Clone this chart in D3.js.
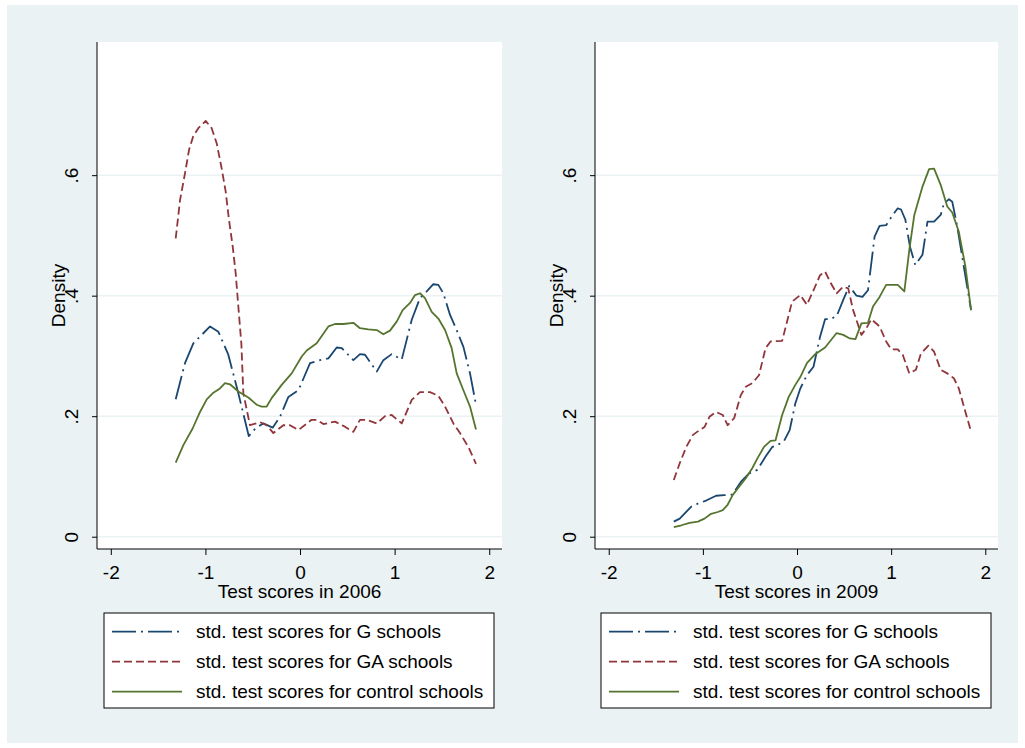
<!DOCTYPE html>
<html>
<head>
<meta charset="utf-8">
<script src="https://cdn.jsdelivr.net/npm/d3@7"></script>
<style>
  body { margin: 0; background: #fff; }
  text { font-family: "Liberation Sans", Arial, sans-serif; fill: #000; }
</style>
</head>
<body>
<div id="chart"></div>
<script>
// kernel density estimates: [score, density]
const g2006 = [[-1.314,0.228],[-1.216,0.288],[-1.128,0.321],[-1.039,0.335],[-0.951,0.349],[-0.863,0.340],[-0.758,0.302],[-0.652,0.238],[-0.542,0.167],[-0.469,0.180],[-0.388,0.188],[-0.289,0.181],[-0.211,0.199],[-0.123,0.232],[-0.017,0.243],[0.106,0.288],[0.211,0.293],[0.300,0.296],[0.388,0.314],[0.441,0.313],[0.564,0.293],[0.634,0.303],[0.687,0.302],[0.811,0.274],[0.881,0.293],[0.969,0.303],[1.075,0.294],[1.181,0.360],[1.268,0.396],[1.339,0.407],[1.409,0.419],[1.462,0.418],[1.515,0.404],[1.586,0.368],[1.656,0.343],[1.727,0.315],[1.797,0.271],[1.860,0.219]];
const ga2006 = [[-1.314,0.495],[-1.268,0.559],[-1.216,0.603],[-1.173,0.642],[-1.128,0.665],[-1.075,0.678],[-0.997,0.690],[-0.934,0.678],[-0.881,0.653],[-0.828,0.611],[-0.786,0.573],[-0.751,0.526],[-0.711,0.481],[-0.680,0.437],[-0.652,0.382],[-0.620,0.320],[-0.599,0.238],[-0.529,0.185],[-0.423,0.190],[-0.352,0.185],[-0.282,0.172],[-0.176,0.185],[-0.106,0.185],[-0.017,0.177],[0.123,0.194],[0.176,0.194],[0.247,0.187],[0.370,0.191],[0.458,0.184],[0.564,0.174],[0.634,0.194],[0.705,0.194],[0.811,0.188],[0.899,0.200],[0.969,0.202],[1.075,0.188],[1.181,0.227],[1.268,0.240],[1.374,0.240],[1.462,0.234],[1.533,0.216],[1.621,0.188],[1.691,0.172],[1.779,0.149],[1.860,0.121]];
const ctl2006 = [[-1.314,0.123],[-1.233,0.152],[-1.134,0.180],[-1.057,0.207],[-0.986,0.228],[-0.916,0.239],[-0.846,0.246],[-0.793,0.255],[-0.740,0.253],[-0.652,0.241],[-0.546,0.231],[-0.458,0.219],[-0.405,0.216],[-0.352,0.216],[-0.300,0.230],[-0.194,0.252],[-0.088,0.271],[0.018,0.299],[0.071,0.309],[0.176,0.321],[0.300,0.349],[0.370,0.353],[0.458,0.353],[0.564,0.355],[0.634,0.346],[0.722,0.344],[0.811,0.343],[0.881,0.336],[0.951,0.342],[1.022,0.357],[1.085,0.376],[1.163,0.388],[1.216,0.401],[1.268,0.404],[1.321,0.396],[1.392,0.373],[1.462,0.362],[1.533,0.343],[1.603,0.313],[1.656,0.271],[1.727,0.243],[1.797,0.216],[1.860,0.178]];

const g2009 = [[-1.309,0.025],[-1.246,0.030],[-1.123,0.050],[-1.053,0.055],[-0.965,0.060],[-0.860,0.068],[-0.773,0.069],[-0.684,0.070],[-0.597,0.091],[-0.509,0.105],[-0.421,0.111],[-0.334,0.133],[-0.263,0.149],[-0.211,0.152],[-0.141,0.158],[-0.078,0.177],[-0.018,0.221],[0.035,0.246],[0.105,0.268],[0.175,0.282],[0.245,0.332],[0.298,0.361],[0.351,0.361],[0.421,0.366],[0.491,0.393],[0.554,0.416],[0.632,0.400],[0.695,0.398],[0.754,0.409],[0.824,0.498],[0.877,0.516],[0.947,0.517],[1.017,0.534],[1.070,0.545],[1.105,0.543],[1.151,0.526],[1.200,0.481],[1.256,0.451],[1.333,0.468],[1.386,0.523],[1.456,0.523],[1.526,0.534],[1.561,0.553],[1.614,0.560],[1.649,0.556],[1.702,0.515],[1.772,0.448],[1.849,0.376]];
const ga2009 = [[-1.309,0.094],[-1.246,0.122],[-1.176,0.149],[-1.105,0.169],[-1.035,0.177],[-0.983,0.182],[-0.930,0.199],[-0.860,0.207],[-0.789,0.202],[-0.737,0.185],[-0.667,0.197],[-0.597,0.235],[-0.544,0.249],[-0.474,0.255],[-0.404,0.268],[-0.334,0.313],[-0.281,0.324],[-0.158,0.325],[-0.088,0.368],[-0.053,0.390],[0.035,0.401],[0.105,0.385],[0.175,0.409],[0.245,0.434],[0.298,0.440],[0.351,0.423],[0.421,0.404],[0.491,0.415],[0.544,0.412],[0.596,0.376],[0.684,0.335],[0.737,0.346],[0.789,0.361],[0.877,0.349],[0.947,0.324],[1.000,0.311],[1.070,0.311],[1.123,0.302],[1.193,0.271],[1.263,0.277],[1.316,0.304],[1.396,0.317],[1.456,0.307],[1.526,0.277],[1.596,0.271],[1.666,0.263],[1.719,0.246],[1.789,0.207],[1.842,0.178]];
const ctl2009 = [[-1.309,0.016],[-1.228,0.019],[-1.141,0.023],[-1.053,0.025],[-0.983,0.030],[-0.913,0.038],[-0.842,0.041],[-0.789,0.044],[-0.737,0.053],[-0.684,0.069],[-0.615,0.083],[-0.544,0.097],[-0.474,0.114],[-0.421,0.130],[-0.351,0.149],[-0.281,0.159],[-0.228,0.160],[-0.158,0.202],[-0.088,0.232],[-0.018,0.252],[0.035,0.265],[0.105,0.288],[0.193,0.303],[0.298,0.314],[0.421,0.338],[0.491,0.335],[0.561,0.329],[0.621,0.328],[0.684,0.354],[0.754,0.355],[0.807,0.382],[0.877,0.398],[0.947,0.418],[1.070,0.418],[1.140,0.407],[1.193,0.476],[1.246,0.534],[1.333,0.581],[1.403,0.610],[1.456,0.611],[1.526,0.584],[1.596,0.548],[1.649,0.538],[1.719,0.506],[1.789,0.448],[1.849,0.376]];

const xTicks = [-2, -1, 0, 1, 2];
const yTicks = [0, 0.2, 0.4, 0.6];
const yTickLabels = ['0', '.2', '.4', '.6'];
const legendLabels = ['std. test scores for G schools', 'std. test scores for GA schools', 'std. test scores for control schools'];
const seriesColors = ['#1a476f', '#90353b', '#55752f'];
const seriesDash = ['24,5,2,5', '8,4', null];

const panels = [
  { title: 'Test scores in 2006', series: [g2006, ga2006, ctl2006], left: 97, right: 502, legendLeft: 104 },
  { title: 'Test scores in 2009', series: [g2009, ga2009, ctl2009], left: 595, right: 998, legendLeft: 601 }
];

const W = 1025, H = 748;
const plotTop = 42, plotBottom = 549;
const fontSize = 19;

const svg = d3.select('#chart').append('svg')
  .attr('width', W).attr('height', H);

// stata-style outer background
svg.append('rect')
  .attr('x', 7).attr('y', 5).attr('width', W - 14).attr('height', H - 10)
  .attr('fill', '#eaf2f3');

const line = (x, y) => d3.line().x(d => x(d[0])).y(d => y(d[1]));

panels.forEach(p => {
  const g = svg.append('g');

  // keep ticks at the reference spacing: -2..2 is ~378 px
  const x = d3.scaleLinear().domain([-2.146, 2.135]).range([p.left, p.right]);
  const y = d3.scaleLinear().domain([-0.0204, 0.821]).range([plotBottom, plotTop]);

  g.append('rect')
    .attr('x', p.left).attr('y', plotTop)
    .attr('width', p.right - p.left).attr('height', plotBottom - plotTop)
    .attr('fill', '#fff');

  // grid
  g.selectAll('.grid').data(yTicks).enter().append('line')
    .attr('x1', p.left).attr('x2', p.right)
    .attr('y1', d => y(d)).attr('y2', d => y(d))
    .attr('stroke', '#eaf2f3').attr('stroke-width', 1.5);

  // curves
  p.series.forEach((s, i) => {
    g.append('path')
      .datum(s)
      .attr('d', line(x, y))
      .attr('fill', 'none')
      .attr('stroke', seriesColors[i])
      .attr('stroke-width', 1.8)
      .attr('stroke-linejoin', 'round')
      .attr('stroke-dasharray', seriesDash[i]);
  });

  // y axis
  const yAxis = g.append('g')
    .attr('transform', `translate(${p.left},0)`)
    .call(d3.axisLeft(y).tickValues(yTicks).tickSize(5).tickSizeOuter(0)
      .tickFormat((d, i) => yTickLabels[i]));
  yAxis.select('.domain').attr('stroke', '#000').attr('d', `M0,${plotTop}V${plotBottom}`);
  yAxis.selectAll('.tick line').attr('stroke', '#000');
  yAxis.selectAll('.tick text')
    .attr('font-size', fontSize)
    .attr('x', 0).attr('dy', 0)
    .attr('text-anchor', 'middle')
    .attr('transform', 'translate(-19,0) rotate(-90)');

  // x axis
  const xAxis = g.append('g')
    .attr('transform', `translate(0,${plotBottom})`)
    .call(d3.axisBottom(x).tickValues(xTicks).tickSize(6).tickSizeOuter(0)
      .tickFormat(d3.format('d')));
  xAxis.select('.domain').attr('stroke', '#000').attr('d', `M${p.left},0H${p.right}`);
  xAxis.selectAll('.tick line').attr('stroke', '#000');
  xAxis.selectAll('.tick text')
    .attr('font-size', fontSize).attr('y', 30).attr('dy', 0)
    .text(d => d < 0 ? '-' + Math.abs(d) : d);

  g.append('text')
    .attr('x', (p.left + p.right) / 2).attr('y', 598)
    .attr('text-anchor', 'middle').attr('font-size', fontSize)
    .text(p.title);

  g.append('text')
    .attr('transform', `translate(${p.left - 32},${(plotTop + plotBottom) / 2}) rotate(-90)`)
    .attr('text-anchor', 'middle').attr('font-size', fontSize)
    .text('Density');

  // legend
  const lg = g.append('g').attr('transform', `translate(${p.legendLeft},613)`);
  lg.append('rect')
    .attr('width', 390).attr('height', 95)
    .attr('fill', '#fff').attr('stroke', '#000').attr('stroke-width', 1);
  legendLabels.forEach((lab, i) => {
    const cy = 18.7 + i * 30;
    lg.append('line')
      .attr('x1', 8).attr('x2', 78).attr('y1', cy).attr('y2', cy)
      .attr('stroke', seriesColors[i]).attr('stroke-width', 1.8)
      .attr('stroke-dasharray', seriesDash[i]);
    lg.append('text')
      .attr('x', 92).attr('y', cy + 6.5)
      .attr('font-size', fontSize)
      .text(lab);
  });
});
</script>
</body>
</html>
